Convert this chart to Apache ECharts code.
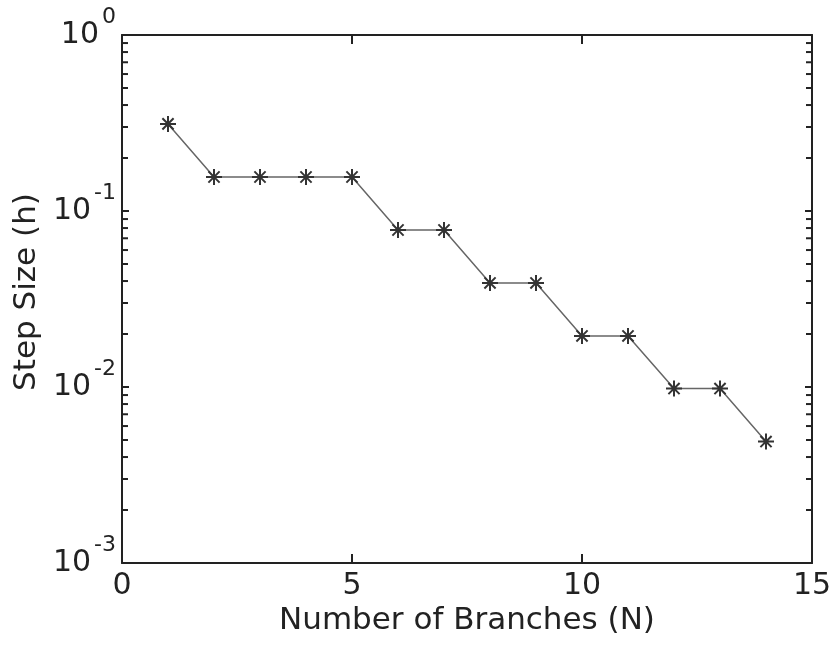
<!DOCTYPE html>
<html>
<head>
<meta charset="utf-8">
<script src="https://cdn.jsdelivr.net/npm/echarts@6/dist/echarts.min.js"></script>
<style>
  html, body { margin: 0; padding: 0; background: #fff; }
  #chart { width: 833px; height: 652px; }
</style>
</head>
<body>
<div id="chart"></div>
<script>
// number of branches and the step size
var branches = [1, 2, 3, 4, 5, 6, 7, 8, 9, 10, 11, 12, 13, 14];
var stepSize = [0.3125, 0.156, 0.156, 0.156, 0.156, 0.078, 0.078, 0.039, 0.039,
  0.0195, 0.0195, 0.0098, 0.0098, 0.0049];

// axis ticks
var xTicks = [0, 5, 10, 15];
var yDecades = [0.001, 0.01, 0.1, 1];
var mantissas = [2, 3, 4, 5, 6, 7, 8, 9];

var minorTicks = [];
yDecades.slice(0, 3).forEach(function (d) {
  mantissas.forEach(function (m) { minorTicks.push([0, d * m]); });
});

var textColor = "#222";
var font = "DejaVu Sans";
var frameLine = { show: true, onZero: false, lineStyle: { color: "#222", width: 2 } };

var chart = echarts.init(document.getElementById("chart"));

var option = {
  animation: false,
  backgroundColor: "#fff",
  grid: { left: 122, top: 35, right: 21, bottom: 89, containLabel: false, outerBoundsMode: "none" },
  xAxis: [
    {
      type: "value", min: 0, max: 15, interval: 5,
      axisLine: frameLine,
      axisTick: { show: true, inside: true, length: 9, lineStyle: { color: "#222", width: 2 } },
      axisLabel: { color: textColor, fontFamily: font, fontSize: 30, margin: 8 },
      splitLine: { show: false },
      name: "Number of Branches (N)",
      nameLocation: "middle",
      nameGap: 30,
      nameTextStyle: { color: textColor, fontFamily: font, fontSize: 31 }
    },
    {
      type: "value", min: 0, max: 15, interval: 5, position: "top",
      axisLine: frameLine,
      axisTick: { show: true, inside: true, length: 9, lineStyle: { color: "#222", width: 2 } },
      axisLabel: { show: false },
      splitLine: { show: false }
    }
  ],
  yAxis: [
    {
      type: "log", logBase: 10, min: 0.001, max: 1, interval: 1,
      axisLine: frameLine,
      axisTick: { show: true, inside: true, length: 7, lineStyle: { color: "#222", width: 2 } },
      axisLabel: {
        margin: 6,
        formatter: function (v) {
          var e = Math.round(Math.log10(v));
          return "{b|10}{e|" + e + "}";
        },
        rich: {
          b: { color: textColor, fontFamily: font, fontSize: 30, lineHeight: 58,
               verticalAlign: "middle", padding: [0, 3, 0, 0] },
          e: { color: textColor, fontFamily: font, fontSize: 22, lineHeight: 22,
               verticalAlign: "top" }
        }
      },
      splitLine: { show: false },
      name: "Step Size (h)",
      nameLocation: "middle",
      nameGap: 80,
      nameTextStyle: { color: textColor, fontFamily: font, fontSize: 31, padding: [0, 0, 0, 14] }
    },
    {
      type: "log", logBase: 10, min: 0.001, max: 1, interval: 1, position: "right",
      axisLine: frameLine,
      axisTick: { show: true, inside: true, length: 7, lineStyle: { color: "#222", width: 2 } },
      axisLabel: { show: false },
      splitLine: { show: false }
    }
  ],
  series: [
    {
      // log minor ticks on left and right frame
      type: "custom",
      silent: true,
      clip: false,
      data: minorTicks,
      renderItem: function (params, api) {
        var v = api.value(1);
        var l = api.coord([0, v]);
        var r = api.coord([15, v]);
        var st = { stroke: "#222", lineWidth: 2 };
        return {
          type: "group",
          children: [
            { type: "line", shape: { x1: l[0], y1: l[1], x2: l[0] + 6, y2: l[1] }, style: st },
            { type: "line", shape: { x1: r[0] - 6, y1: r[1], x2: r[0], y2: r[1] }, style: st }
          ]
        };
      }
    },
    {
      type: "line",
      data: branches.map(function (n, i) { return [n, stepSize[i]]; }),
      lineStyle: { color: "#666", width: 1.5 },
      symbol: "path://M0,5 L10,5 M5,0 L5,10 M1.5,1.5 L8.5,8.5 M8.5,1.5 L1.5,8.5",
      symbolSize: 16,
      itemStyle: { color: "none", borderColor: "#333", borderWidth: 2 },
      z: 5
    }
  ]
};

chart.setOption(option);
</script>
</body>
</html>
